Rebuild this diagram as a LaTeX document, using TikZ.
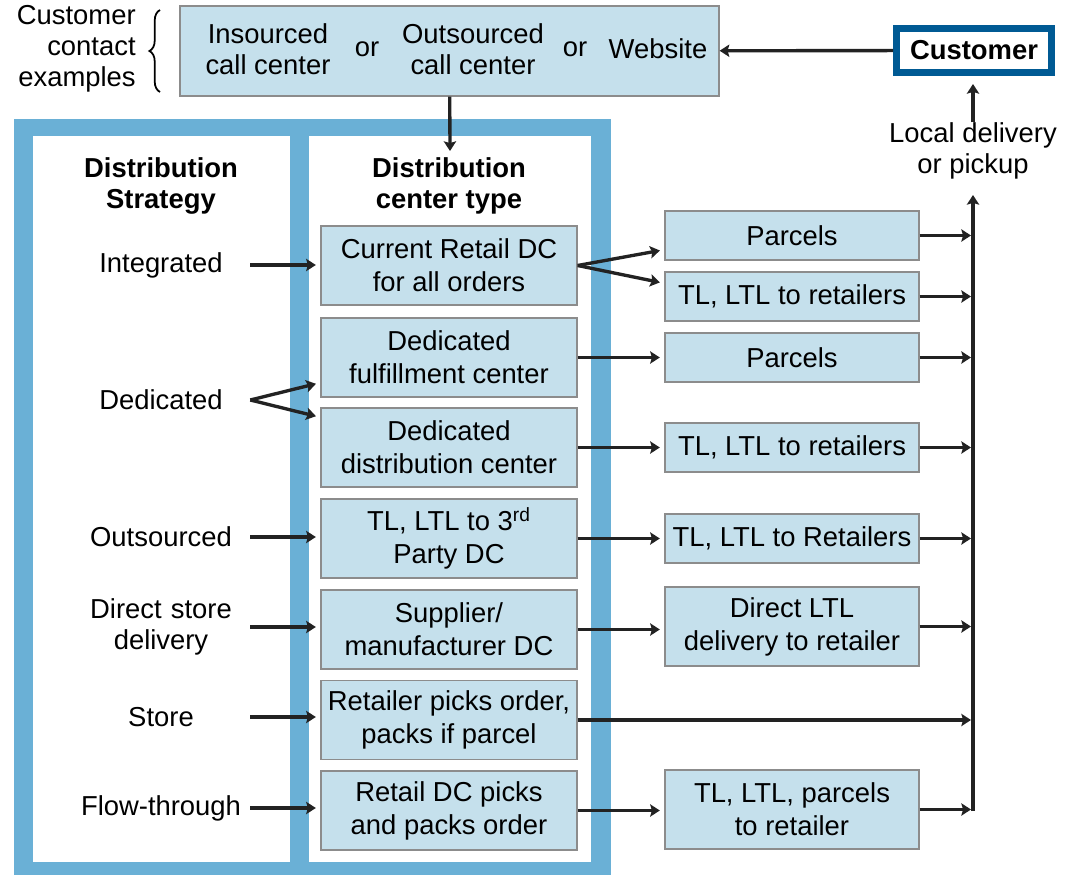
\documentclass[tikz,border=0pt]{standalone}
\usepackage{fontspec}
\setmainfont{Liberation Sans}
\usetikzlibrary{arrows.meta,decorations.pathreplacing}
\definecolor{boxblue}{HTML}{C5E0EC}
\definecolor{frameblue}{HTML}{6AB0D6}
\definecolor{custblue}{HTML}{005A94}
\definecolor{boxgray}{HTML}{8C8C8C}
\definecolor{linegray}{HTML}{222222}
\begin{document}
\begin{tikzpicture}
[x=0.02cm, y=-0.02cm,
 every node/.style={font=\fontsize{15.6}{17.6}\selectfont, align=center, inner sep=0pt},
 box/.style={draw=boxgray, line width=.8pt, fill=boxblue, minimum width=5.12cm, minimum height=1.58cm,
   font=\fontsize{15.6}{18.8}\selectfont},
 modebox/.style={box, minimum width=5.08cm, minimum height=.98cm},
 strat/.style={text width=3.56cm},
 head/.style={font=\bfseries\fontsize{15.6}{17.6}\selectfont},
 arr/.style={->, draw=linegray, line width=1.9pt},
 gap/.style={arr, shorten >=.09cm},
 >={Stealth[length=5.5pt,width=7pt,inset=1pt]}]
\useasboundingbox (0,0) rectangle (1066,875);

% blue frame with the two white panels
\fill[frameblue] (14,119) rectangle (611,875);
\fill[white] (33,136) rectangle (290,862);
\fill[white] (309,136) rectangle (591,862);

% contact row
\node (contact) at (449.5,51) [box, minimum width=10.78cm, minimum height=1.8cm] {};
\node (ins) at (268,49) {Insourced\\call center};
\node (or1) at (367,49) {or};
\node (outs) at (473,49) {Outsourced\\call center};
\node (or2) at (575,49) {or};
\node (web) at (658,49) {Website};
\node (cce) at (136,49) [anchor=east, align=right] {Customer\\contact\\examples};
\draw[decorate, decoration={brace, amplitude=6pt}, line width=1pt] (160,92) -- (160,10);

\node (cust) at (974,50.5) [draw=custblue, line width=4pt, fill=white, minimum width=3.1cm,
  minimum height=.88cm, head] {Customer};
\node (local) at (973,151) {Local delivery\\or pickup};

% headers
\node (hstrat) at (161,186) [head] {Distribution\\Strategy};
\node (hdc) at (449,186) [head] {Distribution\\center type};
\coordinate (dcin) at (450,151);

% distribution center types
\node (dc1) at (449,265.5) [box] {Current Retail DC\\for all orders};
\node (dc2) at (449,357.5) [box] {Dedicated\\fulfillment center};
\node (dc3) at (449,447.5) [box] {Dedicated\\distribution center};
\node (dc4) at (449,538.5) [box] {TL, LTL to 3\textsuperscript{rd}\\Party DC};
\node (dc5) at (449,629.5) [box] {Supplier/\\manufacturer DC};
\node (dc6) at (449,720) [box] {Retailer picks order,\\packs if parcel};
\node (dc7) at (449,810.5) [box] {Retail DC picks\\and packs order};

% shipping modes
\node (pa1) at (792,235.5) [modebox] {Parcels};
\node (tl1) at (792,296.5) [modebox] {TL, LTL to retailers};
\node (pa2) at (792,357.5) [modebox] {Parcels};
\node (tl2) at (792,447.5) [modebox] {TL, LTL to retailers};
\node (tl3) at (792,538.5) [modebox] {TL, LTL to Retailers};
\node (dlv) at (792,626.5) [modebox, minimum height=1.58cm] {Direct LTL\\delivery to retailer};
\node (tlp) at (792,809.5) [modebox, minimum height=1.58cm] {TL, LTL, parcels\\to retailer};

% strategies
\node (sint) at (161,265) [strat] {Integrated};
\node (sded) at (161,400) [strat] {Dedicated};
\node (sout) at (161,537) [strat] {Outsourced};
\node (sdsd) at (161,627) [strat] {Direct store\\delivery};
\node (ssto) at (161,717) [strat] {Store};
\node (sflo) at (161,808) [strat] {Flow-through};

\coordinate (busx) at (971,0);
\coordinate (busbot) at (973,811);
\coordinate (bustop) at (973,195);

\draw[arr] (cust) -- (contact);
\draw[arr, shorten >=.16cm] (local.north) -- (local.north |- cust.south);
\draw[arr] (contact) -- (dcin);

\foreach \s/\d in {sint/dc1, sout/dc4, sdsd/dc5, ssto/dc6, sflo/dc7}
  \draw[gap] (\s.east) -- (\s.east -| \d.west);
\draw[gap] (sded.east) -- ([yshift=.3cm]dc2.south west);
\draw[gap] (sded.east) -- ([yshift=-.2cm]dc3.north west);

\draw[gap] (dc1.east) -- ([yshift=.22cm]pa1.south west);
\draw[gap] (dc1.east) -- ([yshift=-.24cm]tl1.north west);
\foreach \d/\r in {dc2/pa2, dc3/tl2, dc4/tl3, dc5/dlv, dc7/tlp}
  \draw[gap] (\d.east) -- (\d.east -| \r.west);
\draw[arr] (dc6.east) -- (dc6.east -| busx);

\foreach \r in {pa1,tl1,pa2,tl2,tl3,dlv,tlp}
  \draw[arr] (\r.east) -- (\r.east -| busx);
\draw[arr] (busbot) -- (bustop);
\end{tikzpicture}
\end{document}
